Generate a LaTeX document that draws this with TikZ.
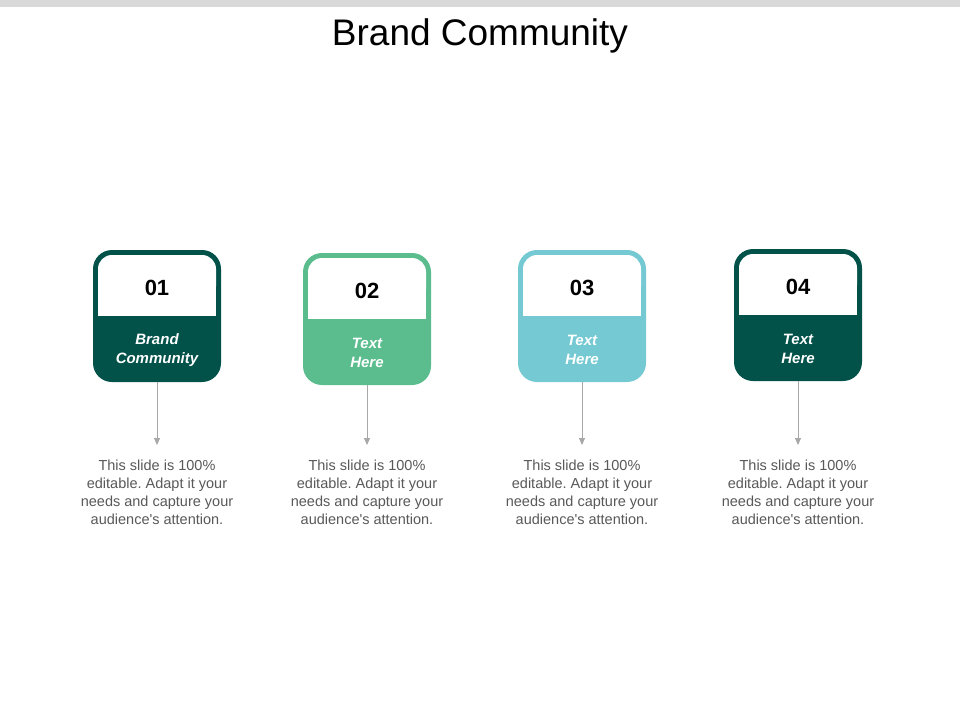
\documentclass[tikz,border=0pt]{standalone}
\usepackage{fontspec}
\setmainfont{Liberation Sans}[Ligatures=NoCommon]
\usetikzlibrary{arrows.meta}
\frenchspacing
\definecolor{cdark}{RGB}{2,82,74}
\definecolor{cgreen}{RGB}{91,189,142}
\definecolor{cteal}{RGB}{116,201,211}
\definecolor{cgray}{RGB}{168,168,168}
\definecolor{ctxt}{RGB}{89,89,89}
\tikzset{
  lbl/.style={font=\fontsize{15}{19}\selectfont\bfseries\itshape, text=white, align=center},
  num/.style={font=\fontsize{22}{24}\selectfont\bfseries, text=black},
  desc/.style={font=\fontsize{14.5}{18}\selectfont, text=ctxt, align=center, anchor=north},
  conn/.style={draw=cgray, line width=0.8pt, -{Triangle[length=7pt,width=6pt]}}
}
\begin{document}
\begin{tikzpicture}[x=1pt,y=-1pt]
\useasboundingbox (0,0) rectangle (960,720);
\fill[white] (0,0) rectangle (960,720);
\fill[black!15] (0,0) rectangle (960,7);
\node[font=\fontsize{37}{40}\selectfont] (title) at (480,36) {Brand Community};
\foreach \i/\x/\y/\c/\t in {1/157/250/cdark/{Brand\\Community},2/367/253/cgreen/{Text\\Here},3/582/250/cteal/{Text\\Here},4/798/249/cdark/{Text\\Here}}{
  \fill[\c, rounded corners=19] (\x-64,\y) rectangle (\x+64,\y+132);
  \fill[white, rounded corners=14] (\x-59,\y+50) rectangle (\x+59,\y+5);
  \fill[white] (\x-59,\y+30) rectangle (\x+59,\y+66);
  \node[num] (n\i) at (\x,\y+38) {0\i};
  \node[lbl] (l\i) at (\x,\y+100) {\t};
  \coordinate (b\i) at (\x,\y+132);
  \coordinate (e\i) at (\x,445);
  \draw[conn] (b\i) -- (e\i);
  \node[desc] (d\i) at (\x,456) {This slide is 100\%\\editable. Adapt it your\\needs and capture your\\audience\textquotesingle s attention.};
}
\end{tikzpicture}
\end{document}
